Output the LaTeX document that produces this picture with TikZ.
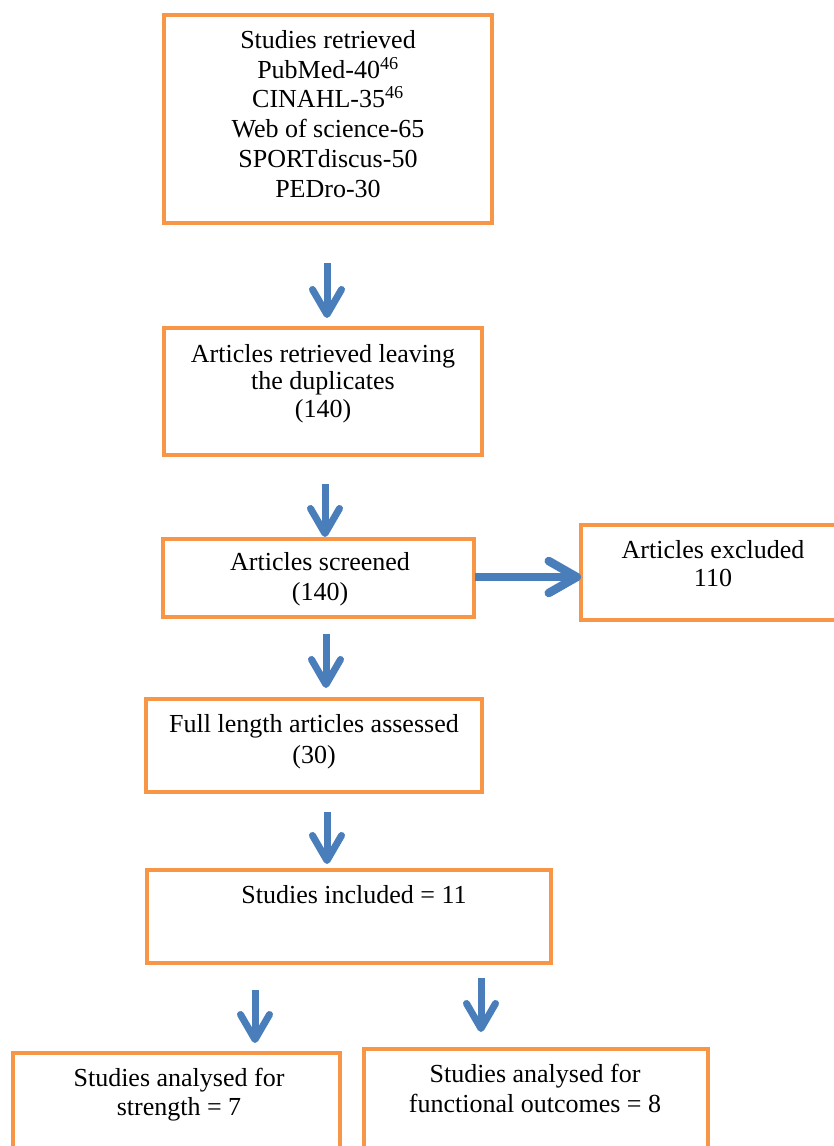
\documentclass[tikz,border=0pt]{standalone}
\usepackage{fontspec}
\setmainfont{Liberation Serif}
\usetikzlibrary{arrows.meta,calc}
\definecolor{boxorange}{HTML}{F79646}
\definecolor{arrowblue}{HTML}{4A7EBB}
\begin{document}
\begin{tikzpicture}[x=1pt,y=-1pt,
  box/.style={draw=boxorange,line width=4pt,fill=white,inner sep=0pt,outer sep=0pt},
  txt/.style={anchor=north,align=center,inner sep=0pt,font=\fontsize{26}{29.8}\selectfont},
  varrow/.style={draw=arrowblue,line width=7pt,-{Straight Barb[round,length=25pt,width=29pt]}},
  harrow/.style={draw=arrowblue,line width=8.5pt,-{Straight Barb[round,length=28pt,width=32pt]}}]
\useasboundingbox (0,0) rectangle (833,1146);
% boxes
\node[box,minimum width=328pt,minimum height=208pt] (b1) at (328,119) {};
\node[box,minimum width=318pt,minimum height=127pt] (b2) at (323,391.5) {};
\node[box,minimum width=311pt,minimum height=78pt] (b3) at (318.5,578) {};
\node[box,minimum width=269pt,minimum height=95pt] (bx) at (715.5,572.5) {};
\node[box,minimum width=336pt,minimum height=93pt] (b4) at (314,745.5) {};
\node[box,minimum width=404pt,minimum height=93pt] (b5) at (349,916.5) {};
\node[box,minimum width=327pt,minimum height=107pt] (b6) at (176.5,1106.5) {};
\node[box,minimum width=344pt,minimum height=111pt] (b7) at (536,1104.5) {};
% texts
\node[txt] (t1) at (328,30) {Studies retrieved\\PubMed-40\textsuperscript{46}\\CINAHL-35\textsuperscript{46}\\Web of science-65\\SPORTdiscus-50\\PEDro-30};
\node[txt,font=\fontsize{26}{27.5}\selectfont] (t2) at (323,344) {Articles retrieved leaving\\the duplicates\\(140)};
\node[txt,font=\fontsize{26}{30}\selectfont] (t3) at (320,552) {Articles screened\\(140)};
\node[txt,font=\fontsize{26}{28}\selectfont] (tx) at (713,540) {Articles excluded\\110};
\node[txt,font=\fontsize{26}{31}\selectfont] (t4) at (314,714) {Full length articles assessed\\(30)};
\node[txt] (t5) at (354,885) {Studies included = 11};
\node[txt,font=\fontsize{26}{29}\selectfont] (t6) at (179,1068) {Studies analysed for\\strength = 7};
\node[txt,font=\fontsize{26}{30}\selectfont] (t7) at (535,1064) {Studies analysed for\\functional outcomes = 8};
% arrows
\draw[varrow,shorten <=40pt,shorten >=10pt] ([xshift=-1pt]b1.south) -- ([xshift=-1pt]b1.south |- b2.north);
\draw[varrow,shorten <=29pt,shorten >=2pt] ([xshift=2pt]b2.south) -- ([xshift=2pt]b2.south |- b3.north);
\draw[varrow,shorten <=17pt,shorten >=11pt] ([xshift=7.5pt]b3.south) -- ([xshift=7.5pt]b3.south |- b4.north);
\draw[varrow,shorten <=20pt,shorten >=6pt] ([xshift=13pt]b4.south) -- ([xshift=13pt]b4.south |- b5.north);
\draw[varrow,shorten <=27pt,shorten >=10pt] ([xshift=-94pt]b5.south) -- ([xshift=-94pt]b5.south |- b6.north);
\draw[varrow,shorten <=15pt,shorten >=17pt] ([xshift=132pt]b5.south) -- ([xshift=132pt]b5.south |- b7.north);
\draw[harrow,shorten <=1pt] ([yshift=1pt]b3.east) -- ([yshift=1pt]b3.east -| bx.west);
\end{tikzpicture}
\end{document}
